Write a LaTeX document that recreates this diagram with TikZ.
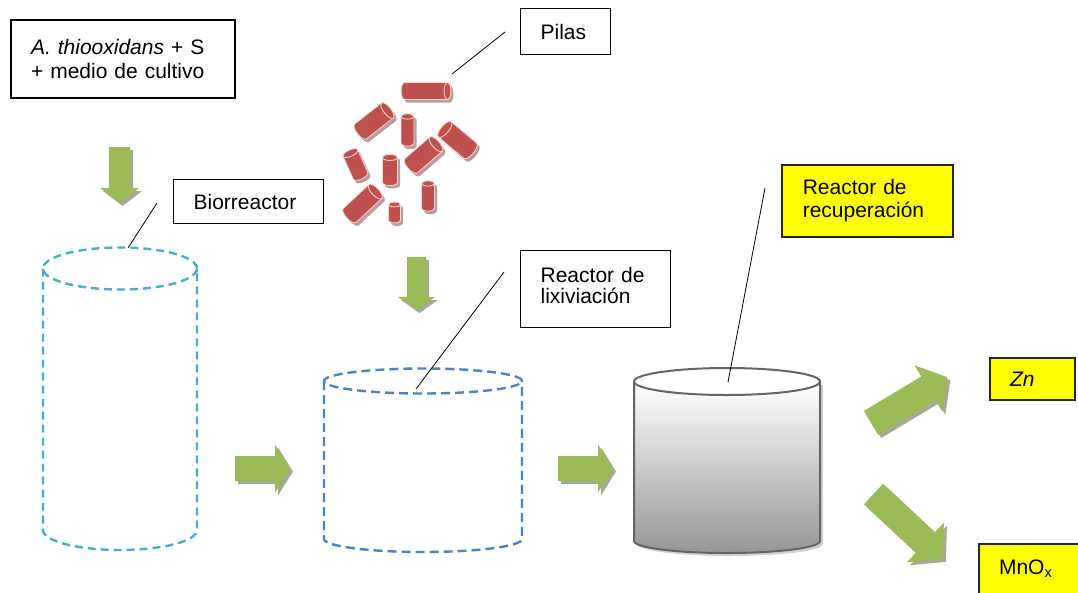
\documentclass[tikz,border=0pt]{standalone}
\usepackage{fontspec}
\setmainfont{Liberation Sans}
\definecolor{arrowgreen}{RGB}{155,187,89}
\definecolor{arrowshadow}{RGB}{166,170,146}
\definecolor{battred}{RGB}{192,80,77}
\definecolor{battedge}{RGB}{242,220,219}
\definecolor{battshadow}{RGB}{190,155,155}
\definecolor{bioteal}{RGB}{75,172,198}
\definecolor{lixblue}{RGB}{79,129,189}
\definecolor{recgray}{RGB}{100,100,100}
\definecolor{recbottom}{RGB}{150,150,150}
\definecolor{labelyellow}{RGB}{255,255,0}

% block arrow: tail x, tail y (downwards), angle, length, shaft width, head width, head length
\newcommand\blockarrow[7]{%
  \fill[arrowshadow, shift={(#1+3,-#2-3)}, rotate=#3]
    (0,-#5/2) -- (#4-#7,-#5/2) -- (#4-#7,-#6/2) -- (#4,0) -- (#4-#7,#6/2) -- (#4-#7,#5/2) -- (0,#5/2) -- cycle;
  \fill[arrowgreen, shift={(#1,-#2)}, rotate=#3]
    (0,-#5/2) -- (#4-#7,-#5/2) -- (#4-#7,-#6/2) -- (#4,0) -- (#4-#7,#6/2) -- (#4-#7,#5/2) -- (0,#5/2) -- cycle;
}

% battery: centre x, centre y (downwards), angle, body length, diameter
\newcommand\battery[5]{%
  \pgfmathsetmacro\battH{#4/2}%
  \pgfmathsetmacro\battR{#5/2}%
  \pgfmathsetmacro\battE{#5*0.2}%
  \fill[battshadow, shift={(#1+2.5,-#2-3)}, rotate=#3]
    (-\battH,\battR) -- (\battH,\battR) arc[start angle=90, end angle=-90, x radius=\battE, y radius=\battR]
    -- (-\battH,-\battR) arc[start angle=270, end angle=90, x radius=\battE, y radius=\battR] -- cycle;
  \begin{scope}[shift={(#1,-#2)}, rotate=#3]
    \filldraw[fill=battred, draw=battedge, line width=0.8pt]
      (-\battH,\battR) -- (\battH,\battR) arc[start angle=90, end angle=-90, x radius=\battE, y radius=\battR]
      -- (-\battH,-\battR) arc[start angle=270, end angle=90, x radius=\battE, y radius=\battR] -- cycle;
    \filldraw[fill=battred, draw=battedge, line width=0.8pt]
      (\battH,0) ellipse[x radius=\battE, y radius=\battR];
  \end{scope}
}

\begin{document}
\begin{tikzpicture}[x=1pt, y=1pt,
  labelbox/.style={draw=black, line width=1.3pt, anchor=north west, align=left,
    inner ysep=0pt, inner xsep=20pt, font=\fontsize{21}{23.5}\selectfont},
  yellowbox/.style={labelbox, fill=labelyellow, draw=black!85},
  leader/.style={draw=black, line width=0.8pt},
  biodash/.style={draw=bioteal, line width=2.4pt, dash pattern=on 8pt off 5pt},
  lixdash/.style={draw=lixblue, line width=2.4pt, dash pattern=on 9pt off 5pt},
  recline/.style={draw=recgray, line width=2pt}]

\useasboundingbox (0,0) rectangle (1078,-592);

% ---------- label boxes ----------
\node[labelbox, line width=2pt, text width=184pt, minimum height=78pt] (src) at (10,-19)
  {\textit{A. thiooxidans} + S\\+ medio de cultivo};
\node[labelbox, text width=110pt, minimum height=44pt] (bio) at (173,-179) {Biorreactor};
\node[labelbox, text width=50pt, minimum height=46pt] (pilas) at (520,-8) {Pilas};
\node[labelbox, text width=110pt, minimum height=77pt, text depth=29pt,
  font=\fontsize{21}{21}\selectfont] (lix) at (520,-250)
  {Reactor de\\lixiviación};
\node[yellowbox, inner xsep=21pt, text width=129pt, minimum height=72pt, line width=1.5pt] (rec) at (781,-164)
  {Reactor de\\recuperación};
\node[yellowbox, line width=2pt, text width=45pt, minimum height=42pt] (zn) at (989,-357) {\textit{Zn}};
\node[yellowbox, line width=2pt, text width=62pt, minimum height=50pt] (mnox) at (978,-543) {MnO\textsubscript{x}};

% ---------- biorreactor (dashed cylinder) ----------
\draw[biodash] (120,-268.5) ellipse[x radius=77, y radius=21];
\draw[biodash] (43,-268.5) -- (43,-530)
  arc[start angle=180, end angle=360, x radius=77, y radius=20] -- (197,-268.5);

% ---------- leaching reactor (dashed cylinder) ----------
\draw[lixdash] (423,-381) ellipse[x radius=99, y radius=12.5];
\draw[lixdash] (324,-381) -- (324,-539)
  arc[start angle=180, end angle=360, x radius=99, y radius=13] -- (522,-381);

% ---------- recovery reactor (solid shaded cylinder) ----------
\fill[black!18] (637,-385) -- (637,-544)
  arc[start angle=180, end angle=360, x radius=93, y radius=12] -- (823,-385) -- cycle;
\shade[top color=white, bottom color=recbottom] (634,-381.5) -- (634,-541)
  arc[start angle=180, end angle=360, x radius=93, y radius=12] -- (820,-381.5) -- cycle;
\draw[recline] (634,-381.5) -- (634,-541)
  arc[start angle=180, end angle=360, x radius=93, y radius=12] -- (820,-381.5);
\filldraw[recline, fill=white] (727,-381.5) ellipse[x radius=93, y radius=13.5];

% ---------- batteries ----------
\battery{426}{91}{0}{43}{17}
\battery{374}{121}{38}{34}{19}
\battery{407.5}{130}{90}{27}{13}
\battery{457.5}{140}{140}{33}{20}
\battery{355.5}{164.5}{114}{25}{16}
\battery{390}{170}{90}{25}{15}
\battery{423.5}{155}{41}{33}{19}
\battery{362.5}{203.5}{43}{35}{19}
\battery{394.5}{212.5}{90}{16}{12}
\battery{428}{196}{90}{25}{13}

% ---------- process arrows ----------
\blockarrow{119.5}{147}{-90}{56}{21}{39}{15}
\blockarrow{416.5}{257}{-90}{53}{19}{37}{13}
\blockarrow{235}{468.5}{0}{55}{25}{48}{15}
\blockarrow{558}{468.5}{0}{55}{25}{48}{15}
\blockarrow{871}{423}{31}{89}{28}{54}{22}
\blockarrow{873.5}{494}{-43}{95}{28}{54}{24}

% ---------- leader lines ----------
\coordinate (pilasEnd) at (505,-32);
\coordinate (pilasTip) at (452,-74);
\coordinate (bioEnd) at (157,-203);
\coordinate (bioTip) at (128,-248);
\coordinate (lixEnd) at (504,-272);
\coordinate (lixTip) at (416,-389);
\coordinate (recEnd) at (765,-188);
\coordinate (recTip) at (728,-382);
\draw[leader] (pilasEnd) -- (pilasTip);
\draw[leader] (bioEnd) -- (bioTip);
\draw[leader] (lixEnd) -- (lixTip);
\draw[leader] (recEnd) -- (recTip);
\end{tikzpicture}
\end{document}
